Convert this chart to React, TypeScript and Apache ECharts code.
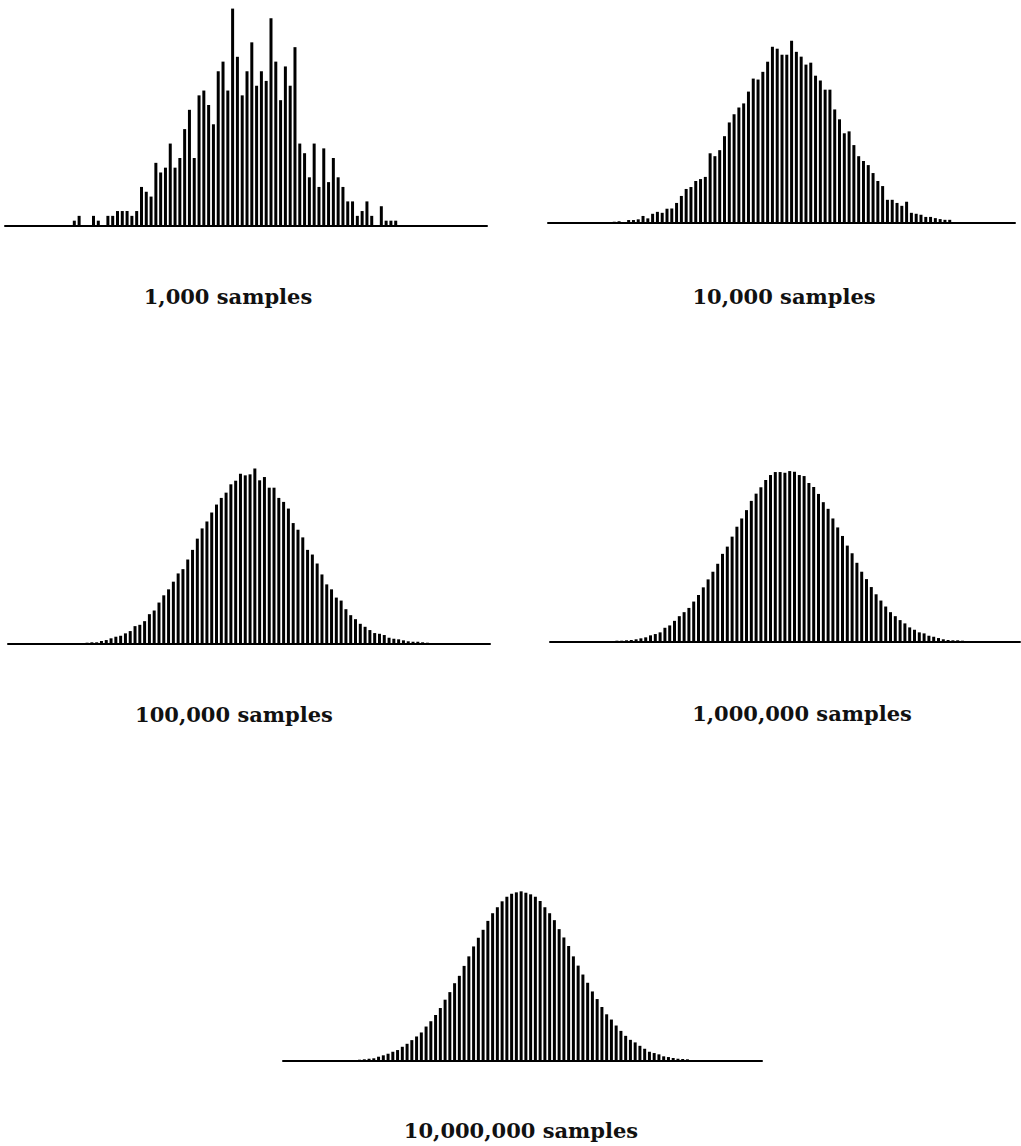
import React, { useEffect, useRef } from "react";
import * as echarts from "echarts";

// Histogram heights, in per-mille of samples per bin.
const HIST_1K = [
  1, 2, 0, 0, 2, 1, 0, 2, 2, 3, 3, 3, 2, 3, 8, 7, 6, 13, 11, 12, 17, 12, 14, 20,
  24, 14, 27, 28, 25, 21, 32, 34, 28, 45, 35, 27, 32, 38, 29, 32, 30, 43, 34, 26,
  33, 29, 37, 17, 15, 10, 17, 8, 16, 9, 14, 10, 8, 5, 5, 2, 3, 5, 2, 0, 4, 1, 1, 1,
];

const HIST_10K = [
  0.1, 0.15, 0.2, 0.3, 0.15, 0.55, 0.55, 0.7, 1.4, 0.9, 1.85, 2.25, 2.05, 2.9,
  2.95, 4.1, 5.55, 7.0, 7.4, 8.65, 9.05, 9.5, 14.4, 13.8, 15.05, 17.95, 20.8,
  22.5, 23.9, 24.75, 27.2, 29.9, 29.7, 31.3, 33.4, 36.5, 36.1, 34.85, 34.85,
  37.75, 35.45, 34.45, 32.8, 33.2, 30.5, 29.5, 27.6, 27.6, 23.5, 21.45, 18.55,
  18.95, 16.1, 13.8, 12.8, 11.95, 10.3, 8.65, 7.6, 4.75, 4.75, 4.1, 3.5, 4.35,
  2.05, 1.85, 1.65, 1.2, 1.2, 0.95, 0.75, 0.6, 0.6,
];

const HIST_100K = [
  0.14, 0.14, 0.21, 0.27, 0.35, 0.35, 0.62, 0.82, 1.18, 1.51, 1.71, 2.21, 2.68,
  3.71, 3.98, 4.74, 6.19, 6.95, 8.6, 10.1, 11.34, 12.93, 14.64, 15.53, 17.53,
  19.53, 21.86, 23.98, 25.42, 27.28, 28.93, 30.31, 31.4, 33.13, 33.88, 35.32,
  34.99, 35.2, 36.43, 33.96, 34.64, 32.43, 32.43, 30.31, 29.48, 28.1, 25.09,
  23.71, 22.12, 19.53, 18.56, 16.7, 14.43, 12.37, 11.34, 9.63, 9.01, 7.22, 5.98,
  5.15, 4.19, 3.57, 2.89, 2.27, 2.12, 1.86, 1.3, 1.09, 0.97, 0.76, 0.56, 0.47,
  0.47, 0.35, 0.27, 0.21, 0.14,
];

const HIST_1M = [
  0.06, 0.21, 0.27, 0.27, 0.35, 0.41, 0.56, 0.76, 0.97, 1.38, 1.65, 2.0, 2.95,
  3.44, 4.39, 5.36, 6.19, 7.07, 8.39, 9.75, 11.34, 12.99, 14.58, 16.23, 18.29,
  19.79, 21.86, 23.92, 25.63, 27.36, 29.28, 30.78, 32.1, 33.61, 34.64, 35.26,
  35.26, 35.11, 35.46, 35.32, 34.64, 34.43, 32.99, 32.16, 30.72, 29.01, 27.63,
  25.63, 23.77, 22.0, 20.0, 18.41, 16.43, 14.58, 13.05, 11.4, 9.9, 8.6, 7.36,
  6.19, 5.36, 4.54, 3.86, 3.03, 2.54, 2.0, 1.79, 1.3, 1.09, 0.82, 0.56, 0.41,
  0.35, 0.35, 0.27, 0.14, 0.06,
];

const HIST_10M = [
  0.06, 0.14, 0.14, 0.27, 0.35, 0.47, 0.56, 0.89, 1.18, 1.51, 1.92, 2.27, 2.95,
  3.57, 4.33, 5.09, 5.92, 7.15, 8.25, 9.55, 10.99, 12.72, 14.29, 16.14, 17.67,
  19.73, 21.71, 23.77, 25.57, 27.22, 29.07, 30.66, 31.9, 33.13, 34.08, 34.7,
  34.99, 35.2, 34.91, 34.58, 34.08, 33.2, 31.9, 30.66, 29.22, 27.36, 25.63,
  23.86, 21.71, 19.79, 17.94, 16.23, 14.43, 12.85, 11.2, 9.69, 8.6, 7.36, 6.25,
  5.22, 4.39, 3.86, 3.15, 2.54, 1.92, 1.65, 1.38, 0.97, 0.82, 0.62, 0.47, 0.41,
  0.35, 0.21, 0.14, 0.06,
];

const LABELS = [
  "1,000 samples",
  "10,000 samples",
  "100,000 samples",
  "1,000,000 samples",
  "10,000,000 samples",
];

const SERIES = [HIST_1K, HIST_10K, HIST_100K, HIST_1M, HIST_10M];

// Layout (pixels) and axis extents (in bin units) for each panel.
const LAYOUT = [
  { left: 5, width: 482, base: 225.5, xMin: -14.45, xMax: 86.03, lx: 228, ly: 296 },
  { left: 548, width: 467, base: 222.7, xMin: -11.83, xMax: 85.62, lx: 784, ly: 296 },
  { left: 8, width: 482, base: 644, xMin: -13.5, xMax: 87.06, lx: 234, ly: 714 },
  { left: 550, width: 470, base: 642, xMin: -11.94, xMax: 85.98, lx: 802, ly: 713 },
  { left: 283, width: 479, base: 1061, xMin: -13.11, xMax: 87.69, lx: 521, ly: 1130 },
];

const Y_MAX = 45.5;
const PX_PER_UNIT = 4.82;

export default function App() {
  const ref = useRef<HTMLDivElement>(null);

  useEffect(() => {
    if (!ref.current) return;
    const chart = echarts.init(ref.current, null, { renderer: "svg" });
    const h = Y_MAX * PX_PER_UNIT;

    const grid = LAYOUT.map((p) => ({
      left: p.left,
      width: p.width,
      top: p.base - h,
      height: h,
      containLabel: false,
    }));
    const xAxis = LAYOUT.map((p, i) => ({
      type: "value",
      gridIndex: i,
      min: p.xMin,
      max: p.xMax,
      axisLine: { show: true, onZero: false, lineStyle: { color: "#000", width: 2 } },
      axisTick: { show: false },
      axisLabel: { show: false },
      splitLine: { show: false },
    }));
    const yAxis = LAYOUT.map((_, i) => ({
      type: "value",
      gridIndex: i,
      min: 0,
      max: Y_MAX,
      show: false,
      splitLine: { show: false },
    }));
    const series = SERIES.map((arr, i) => ({
      type: "bar",
      xAxisIndex: i,
      yAxisIndex: i,
      barWidth: 3,
      itemStyle: { color: "#000" },
      silent: true,
      data: arr.map((v, k) => [k, v]),
    }));
    const graphic = LAYOUT.map((p, i) => ({
      type: "text",
      x: p.lx,
      y: p.ly,
      style: {
        text: LABELS[i],
        fill: "#111",
        fontFamily: '"DejaVu Serif", serif',
        fontSize: 21,
        fontWeight: "bold",
        align: "center",
        verticalAlign: "middle",
        textAlign: "center",
        textVerticalAlign: "middle",
      },
    }));

    chart.setOption({
      animation: false,
      backgroundColor: "#ffffff",
      grid,
      xAxis,
      yAxis,
      series,
      graphic,
    });
    return () => chart.dispose();
  }, []);

  return (
    <div
      ref={ref}
      style={{
        position: "absolute",
        left: 0,
        top: 0,
        width: 1021,
        height: 1146,
        background: "#fff",
      }}
    />
  );
}
